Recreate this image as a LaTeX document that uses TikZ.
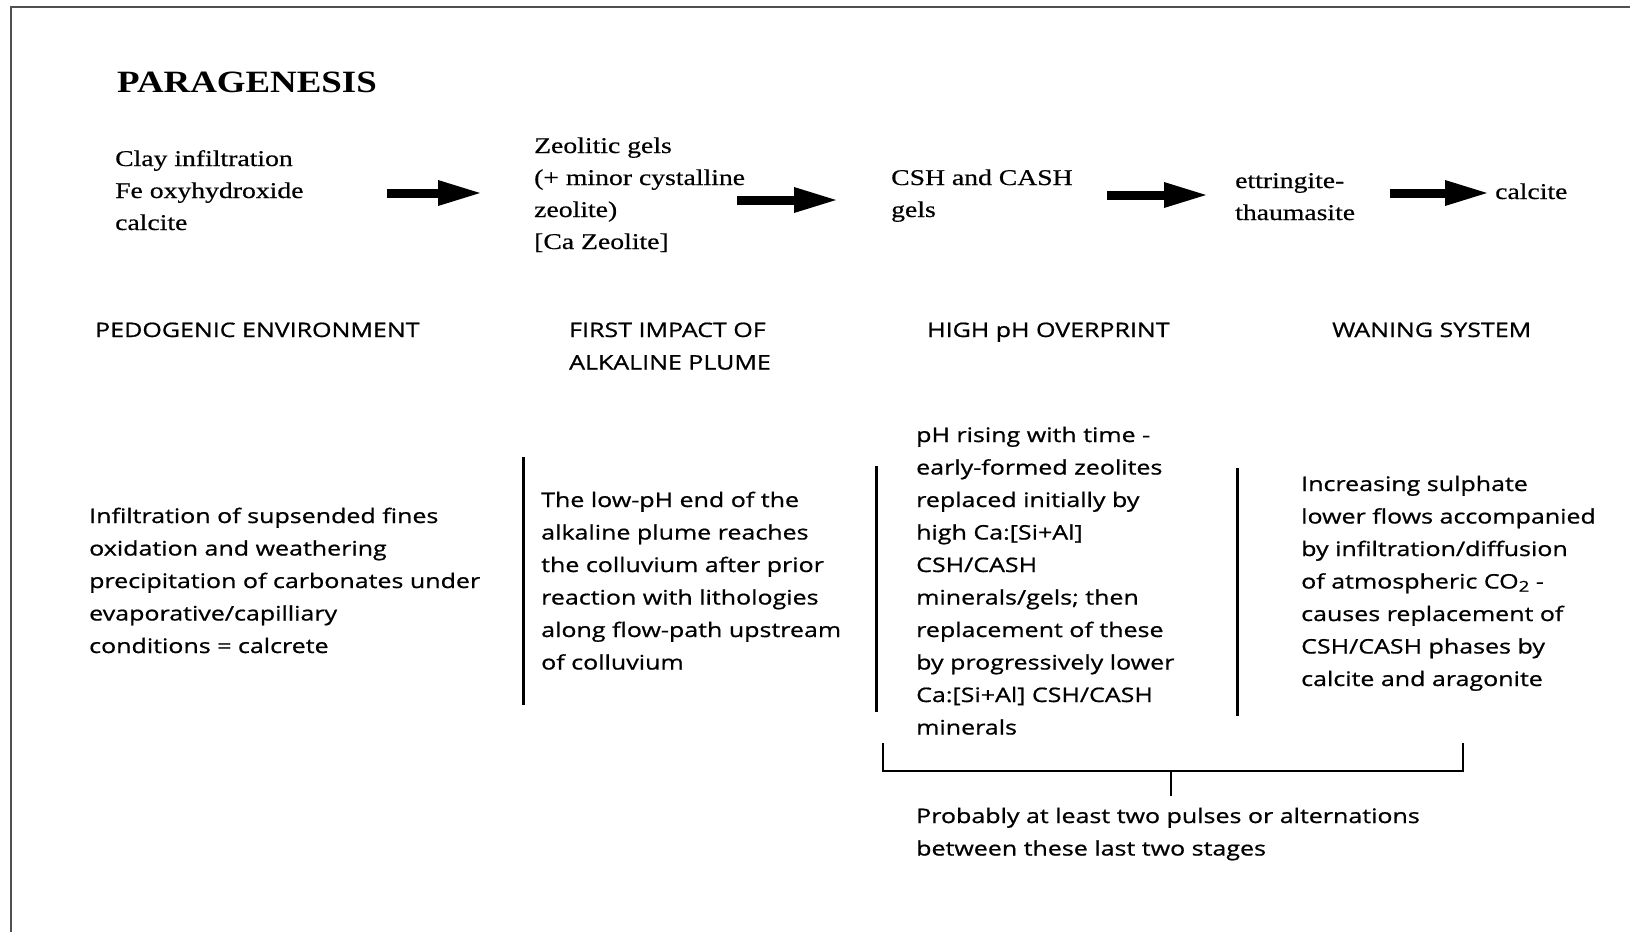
\documentclass[tikz,border=0pt]{standalone}
\usepackage{fontspec}
\setmainfont{Liberation Serif}
\newfontfamily\serifF[FakeStretch=1.23,FakeBold=0.5]{Liberation Serif}
\newfontfamily\titleF[FakeStretch=1.19]{Liberation Serif}
\newfontfamily\sansF[FakeStretch=1.25,FakeBold=0.8]{Open Sans}
\usetikzlibrary{arrows.meta}
\definecolor{framegray}{RGB}{80,80,80}
\begin{document}
\begin{tikzpicture}[x=1pt,y=-1pt,
  serif/.style={font=\serifF\fontsize{22.5}{32}\selectfont, align=left, anchor=base west, inner sep=0pt},
  sans/.style={font=\sansF\fontsize{20}{32.5}\selectfont, align=left, anchor=base west, inner sep=0pt},
  titlestyle/.style={font=\titleF\bfseries\fontsize{31}{36}\selectfont, anchor=base west, inner sep=0pt},
  fatarrow/.style={line width=9pt, -{Triangle[length=42pt,width=26pt,line width=0pt]}},
  bar/.style={line width=3pt},
  bracketline/.style={line width=2.4pt}
]
\useasboundingbox (0,0) rectangle (1630,932);
\fill[white] (0,0) rectangle (1630,932);
% frame
\draw[framegray, line width=2pt] (11,932) -- (11,7) -- (1630,7);

% title
\node[titlestyle] (title) at (117,92) {PARAGENESIS};

% paragenesis sequence (anchor = baseline of last line)
\node[serif] (p1) at (115,230) {Clay infiltration\\Fe oxyhydroxide\\calcite};
\node[serif] (p2) at (534,249) {Zeolitic gels\\(+ minor cystalline\\zeolite)\\{}[Ca Zeolite]};
\node[serif] (p3) at (891,217) {CSH and CASH\\gels};
\node[serif] (p4) at (1235,220) {ettringite-\\thaumasite};
\node[serif] (p5) at (1495,199) {calcite};

\coordinate (a1s) at (387,193); \coordinate (a1e) at (480,193);
\coordinate (a2s) at (737,200); \coordinate (a2e) at (836,200);
\coordinate (a3s) at (1107,195); \coordinate (a3e) at (1206,195);
\coordinate (a4s) at (1390,193); \coordinate (a4e) at (1487,193);
\draw[fatarrow] (a1s) -- (a1e);
\draw[fatarrow] (a2s) -- (a2e);
\draw[fatarrow] (a3s) -- (a3e);
\draw[fatarrow] (a4s) -- (a4e);

% stage headings
\node[sans] (h1) at (95,337) {PEDOGENIC ENVIRONMENT};
\node[sans] (h2) at (569,369.5) {FIRST IMPACT OF\\ALKALINE PLUME};
\node[sans] (h3) at (927,337) {HIGH pH OVERPRINT};
\node[sans] (h4) at (1332,337) {WANING SYSTEM};

% descriptions
\node[sans] (b1) at (89,653) {Infiltration of supsended fines\\oxidation and weathering\\precipitation of carbonates under\\evaporative/capilliary\\conditions = calcrete};
\node[sans] (b2) at (541,669.5) {The low-pH end of the\\alkaline plume reaches\\the colluvium after prior\\reaction with lithologies\\along flow-path upstream\\of colluvium};
\node[sans] (b3) at (916,734.5) {pH rising with time -\\early-formed zeolites\\replaced initially by\\high Ca:[Si+Al]\\CSH/CASH\\minerals/gels; then\\replacement of these\\by progressively lower\\Ca:[Si+Al] CSH/CASH\\minerals};
\node[sans] (b4) at (1301,686) {Increasing sulphate\\lower flows accompanied\\by infiltration/diffusion\\of atmospheric CO\raisebox{-0.3ex}{\fontsize{15}{15}\selectfont 2} -\\causes replacement of\\CSH/CASH phases by\\calcite and aragonite};

% separators
\coordinate (s1t) at (523,457); \coordinate (s1b) at (523,705);
\coordinate (s2t) at (876,466); \coordinate (s2b) at (876,712);
\coordinate (s3t) at (1237,468); \coordinate (s3b) at (1237,716);
\draw[bar] (s1t) -- (s1b);
\draw[bar] (s2t) -- (s2b);
\draw[bar] (s3t) -- (s3b);

% bracket
\coordinate (bl) at (883,743); \coordinate (blb) at (883,771);
\coordinate (br) at (1463,743); \coordinate (brb) at (1463,771);
\coordinate (bm) at (1171,771); \coordinate (bmb) at (1171,796);
\draw[bracketline] (bl) -- (blb) -- (brb) -- (br);
\draw[line width=1.2pt] (bm) -- (bmb);

\node[sans] (note) at (916,855.5) {Probably at least two pulses or alternations\\between these last two stages};
\end{tikzpicture}
\end{document}
